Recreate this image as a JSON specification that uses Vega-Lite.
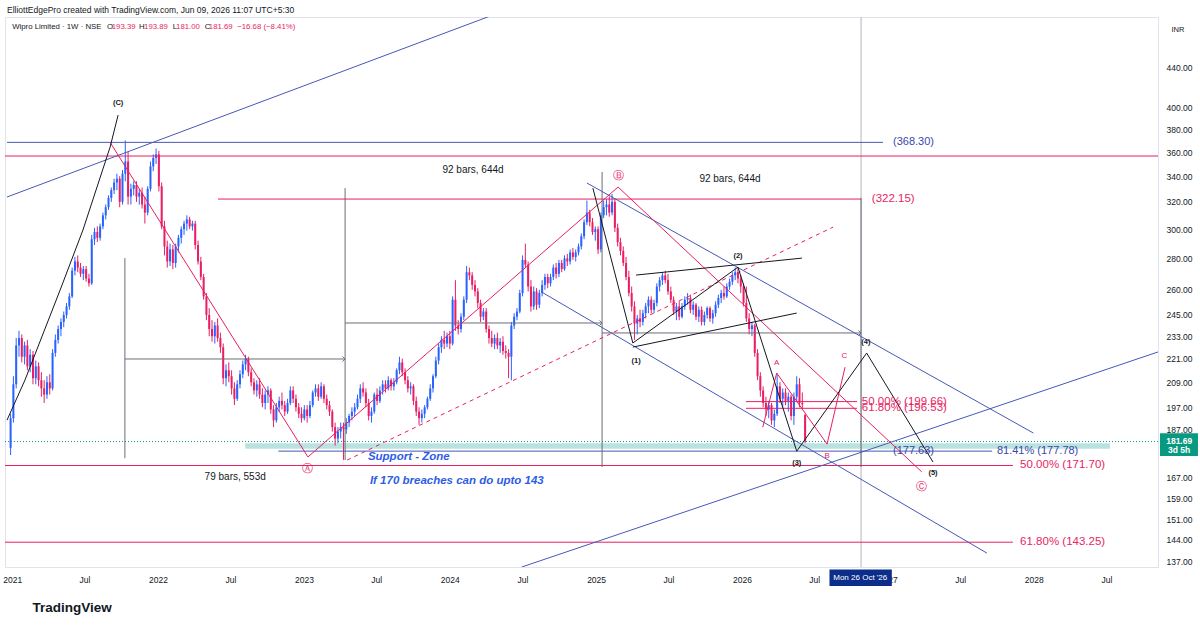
{
  "$schema": "https://vega.github.io/schema/vega-lite/v6.json",
  "autosize": {"type": "none"},
  "padding": {"left": 5, "top": 17, "right": 42, "bottom": 60},
  "width": 1153,
  "height": 550,
  "background": "white",
  "title": {
    "text": "ElliottEdgePro created with TradingView.com, Jun 09, 2026 11:07 UTC+5:30",
    "anchor": "start", "frame": "group", "orient": "top", "offset": 2, "dx": 2,
    "fontSize": 8.5, "fontWeight": "normal", "color": "#131722", "font": "Liberation Sans"
  },
  "datasets": {
    "candles": [
      {"d":"2020-12-28","o":179,"h":194,"l":176,"c":192},
      {"d":"2021-01-04","o":192,"h":212,"l":190,"c":208},
      {"d":"2021-01-11","o":208,"h":232,"l":206,"c":228},
      {"d":"2021-01-18","o":228,"h":236,"l":222,"c":232},
      {"d":"2021-01-25","o":232,"h":234,"l":219,"c":222},
      {"d":"2021-02-01","o":222,"h":230,"l":218,"c":228},
      {"d":"2021-02-08","o":228,"h":231,"l":215,"c":217},
      {"d":"2021-02-15","o":217,"h":226,"l":214,"c":223},
      {"d":"2021-02-22","o":223,"h":225,"l":208,"c":211},
      {"d":"2021-03-01","o":211,"h":220,"l":208,"c":217},
      {"d":"2021-03-08","o":217,"h":219,"l":207,"c":210},
      {"d":"2021-03-15","o":210,"h":214,"l":202,"c":206},
      {"d":"2021-03-22","o":206,"h":210,"l":199,"c":203},
      {"d":"2021-03-29","o":203,"h":212,"l":201,"c":209},
      {"d":"2021-04-05","o":209,"h":213,"l":203,"c":206},
      {"d":"2021-04-12","o":206,"h":226,"l":205,"c":224},
      {"d":"2021-04-19","o":224,"h":234,"l":222,"c":231},
      {"d":"2021-04-26","o":231,"h":239,"l":229,"c":237},
      {"d":"2021-05-03","o":237,"h":243,"l":233,"c":241},
      {"d":"2021-05-10","o":241,"h":247,"l":238,"c":245},
      {"d":"2021-05-17","o":245,"h":252,"l":243,"c":250},
      {"d":"2021-05-24","o":250,"h":258,"l":248,"c":256},
      {"d":"2021-05-31","o":256,"h":274,"l":255,"c":272},
      {"d":"2021-06-07","o":272,"h":281,"l":269,"c":278},
      {"d":"2021-06-14","o":278,"h":282,"l":271,"c":274},
      {"d":"2021-06-21","o":274,"h":277,"l":268,"c":270},
      {"d":"2021-06-28","o":270,"h":275,"l":266,"c":273},
      {"d":"2021-07-05","o":273,"h":275,"l":265,"c":267},
      {"d":"2021-07-12","o":267,"h":270,"l":262,"c":264},
      {"d":"2021-07-19","o":264,"h":296,"l":263,"c":293},
      {"d":"2021-07-26","o":293,"h":301,"l":289,"c":298},
      {"d":"2021-08-02","o":298,"h":302,"l":291,"c":294},
      {"d":"2021-08-09","o":294,"h":304,"l":292,"c":302},
      {"d":"2021-08-16","o":302,"h":312,"l":300,"c":310},
      {"d":"2021-08-23","o":310,"h":318,"l":307,"c":316},
      {"d":"2021-08-30","o":316,"h":325,"l":314,"c":323},
      {"d":"2021-09-06","o":323,"h":331,"l":320,"c":329},
      {"d":"2021-09-13","o":329,"h":338,"l":326,"c":335},
      {"d":"2021-09-20","o":335,"h":342,"l":329,"c":338},
      {"d":"2021-09-27","o":338,"h":340,"l":316,"c":320},
      {"d":"2021-10-04","o":320,"h":345,"l":318,"c":342},
      {"d":"2021-10-11","o":342,"h":370,"l":336,"c":352},
      {"d":"2021-10-18","o":352,"h":360,"l":318,"c":324},
      {"d":"2021-10-25","o":324,"h":334,"l":318,"c":330},
      {"d":"2021-11-01","o":330,"h":336,"l":325,"c":333},
      {"d":"2021-11-08","o":333,"h":336,"l":320,"c":324},
      {"d":"2021-11-15","o":324,"h":330,"l":318,"c":327},
      {"d":"2021-11-22","o":327,"h":331,"l":315,"c":318},
      {"d":"2021-11-29","o":318,"h":324,"l":304,"c":312},
      {"d":"2021-12-06","o":312,"h":332,"l":310,"c":330},
      {"d":"2021-12-13","o":330,"h":352,"l":328,"c":348},
      {"d":"2021-12-20","o":348,"h":358,"l":344,"c":355},
      {"d":"2021-12-27","o":355,"h":363,"l":350,"c":358},
      {"d":"2022-01-03","o":358,"h":361,"l":328,"c":332},
      {"d":"2022-01-10","o":332,"h":335,"l":300,"c":302},
      {"d":"2022-01-17","o":302,"h":306,"l":282,"c":288},
      {"d":"2022-01-24","o":288,"h":292,"l":274,"c":278},
      {"d":"2022-01-31","o":278,"h":290,"l":275,"c":286},
      {"d":"2022-02-07","o":286,"h":289,"l":273,"c":277},
      {"d":"2022-02-14","o":277,"h":290,"l":274,"c":288},
      {"d":"2022-02-21","o":288,"h":296,"l":284,"c":294},
      {"d":"2022-02-28","o":294,"h":302,"l":290,"c":300},
      {"d":"2022-03-07","o":300,"h":306,"l":296,"c":304},
      {"d":"2022-03-14","o":304,"h":310,"l":299,"c":307},
      {"d":"2022-03-21","o":307,"h":309,"l":300,"c":302},
      {"d":"2022-03-28","o":302,"h":306,"l":299,"c":304},
      {"d":"2022-04-04","o":304,"h":306,"l":286,"c":289},
      {"d":"2022-04-11","o":289,"h":292,"l":276,"c":278},
      {"d":"2022-04-18","o":278,"h":281,"l":266,"c":268},
      {"d":"2022-04-25","o":268,"h":270,"l":254,"c":256},
      {"d":"2022-05-02","o":256,"h":258,"l":242,"c":245},
      {"d":"2022-05-09","o":245,"h":249,"l":233,"c":237},
      {"d":"2022-05-16","o":237,"h":242,"l":230,"c":233},
      {"d":"2022-05-23","o":233,"h":241,"l":229,"c":239},
      {"d":"2022-05-30","o":239,"h":243,"l":230,"c":232},
      {"d":"2022-06-06","o":232,"h":235,"l":224,"c":227},
      {"d":"2022-06-13","o":227,"h":229,"l":208,"c":211},
      {"d":"2022-06-20","o":211,"h":218,"l":207,"c":215},
      {"d":"2022-06-27","o":215,"h":219,"l":209,"c":212},
      {"d":"2022-07-04","o":212,"h":215,"l":203,"c":206},
      {"d":"2022-07-11","o":206,"h":209,"l":198,"c":201},
      {"d":"2022-07-18","o":201,"h":210,"l":200,"c":208},
      {"d":"2022-07-25","o":208,"h":215,"l":206,"c":213},
      {"d":"2022-08-01","o":213,"h":220,"l":211,"c":218},
      {"d":"2022-08-08","o":218,"h":223,"l":215,"c":221},
      {"d":"2022-08-15","o":221,"h":222,"l":212,"c":214},
      {"d":"2022-08-22","o":214,"h":216,"l":207,"c":209},
      {"d":"2022-08-29","o":209,"h":211,"l":203,"c":205},
      {"d":"2022-09-05","o":205,"h":210,"l":202,"c":208},
      {"d":"2022-09-12","o":208,"h":211,"l":201,"c":203},
      {"d":"2022-09-19","o":203,"h":206,"l":197,"c":199},
      {"d":"2022-09-26","o":199,"h":205,"l":196,"c":203},
      {"d":"2022-10-03","o":203,"h":207,"l":199,"c":205},
      {"d":"2022-10-10","o":205,"h":206,"l":194,"c":196},
      {"d":"2022-10-17","o":196,"h":198,"l":188,"c":191},
      {"d":"2022-10-24","o":191,"h":199,"l":190,"c":197},
      {"d":"2022-10-31","o":197,"h":202,"l":195,"c":200},
      {"d":"2022-11-07","o":200,"h":204,"l":196,"c":198},
      {"d":"2022-11-14","o":198,"h":200,"l":193,"c":195},
      {"d":"2022-11-21","o":195,"h":201,"l":194,"c":199},
      {"d":"2022-11-28","o":199,"h":207,"l":198,"c":205},
      {"d":"2022-12-05","o":205,"h":207,"l":199,"c":201},
      {"d":"2022-12-12","o":201,"h":203,"l":195,"c":197},
      {"d":"2022-12-19","o":197,"h":199,"l":192,"c":194},
      {"d":"2022-12-26","o":194,"h":197,"l":190,"c":192},
      {"d":"2023-01-02","o":192,"h":198,"l":191,"c":196},
      {"d":"2023-01-09","o":196,"h":198,"l":190,"c":193},
      {"d":"2023-01-16","o":193,"h":200,"l":192,"c":198},
      {"d":"2023-01-23","o":198,"h":205,"l":197,"c":204},
      {"d":"2023-01-30","o":204,"h":208,"l":202,"c":206},
      {"d":"2023-02-06","o":206,"h":208,"l":200,"c":202},
      {"d":"2023-02-13","o":202,"h":209,"l":201,"c":207},
      {"d":"2023-02-20","o":207,"h":208,"l":199,"c":201},
      {"d":"2023-02-27","o":201,"h":203,"l":196,"c":198},
      {"d":"2023-03-06","o":198,"h":200,"l":193,"c":195},
      {"d":"2023-03-13","o":195,"h":196,"l":186,"c":188},
      {"d":"2023-03-20","o":188,"h":190,"l":180,"c":183},
      {"d":"2023-03-27","o":183,"h":188,"l":181,"c":186},
      {"d":"2023-04-03","o":186,"h":190,"l":183,"c":188},
      {"d":"2023-04-10","o":188,"h":190,"l":174,"c":187},
      {"d":"2023-04-17","o":187,"h":192,"l":185,"c":190},
      {"d":"2023-04-24","o":190,"h":194,"l":188,"c":193},
      {"d":"2023-05-01","o":193,"h":197,"l":191,"c":195},
      {"d":"2023-05-08","o":195,"h":199,"l":193,"c":197},
      {"d":"2023-05-15","o":197,"h":203,"l":196,"c":201},
      {"d":"2023-05-22","o":201,"h":208,"l":199,"c":206},
      {"d":"2023-05-29","o":206,"h":209,"l":202,"c":204},
      {"d":"2023-06-05","o":204,"h":206,"l":197,"c":199},
      {"d":"2023-06-12","o":199,"h":201,"l":191,"c":193},
      {"d":"2023-06-19","o":193,"h":197,"l":190,"c":195},
      {"d":"2023-06-26","o":195,"h":204,"l":194,"c":203},
      {"d":"2023-07-03","o":203,"h":206,"l":198,"c":200},
      {"d":"2023-07-10","o":200,"h":207,"l":199,"c":205},
      {"d":"2023-07-17","o":205,"h":210,"l":203,"c":208},
      {"d":"2023-07-24","o":208,"h":210,"l":204,"c":206},
      {"d":"2023-07-31","o":206,"h":212,"l":205,"c":210},
      {"d":"2023-08-07","o":210,"h":211,"l":205,"c":207},
      {"d":"2023-08-14","o":207,"h":211,"l":205,"c":209},
      {"d":"2023-08-21","o":209,"h":216,"l":208,"c":215},
      {"d":"2023-08-28","o":215,"h":222,"l":213,"c":219},
      {"d":"2023-09-04","o":219,"h":221,"l":212,"c":214},
      {"d":"2023-09-11","o":214,"h":216,"l":208,"c":210},
      {"d":"2023-09-18","o":210,"h":212,"l":204,"c":206},
      {"d":"2023-09-25","o":206,"h":209,"l":203,"c":207},
      {"d":"2023-10-02","o":207,"h":208,"l":198,"c":200},
      {"d":"2023-10-09","o":200,"h":202,"l":193,"c":195},
      {"d":"2023-10-16","o":195,"h":197,"l":189,"c":192},
      {"d":"2023-10-23","o":192,"h":196,"l":190,"c":194},
      {"d":"2023-10-30","o":194,"h":198,"l":192,"c":197},
      {"d":"2023-11-06","o":197,"h":202,"l":196,"c":201},
      {"d":"2023-11-13","o":201,"h":208,"l":200,"c":206},
      {"d":"2023-11-20","o":206,"h":213,"l":204,"c":212},
      {"d":"2023-11-27","o":212,"h":222,"l":211,"c":220},
      {"d":"2023-12-04","o":220,"h":229,"l":218,"c":227},
      {"d":"2023-12-11","o":227,"h":233,"l":224,"c":231},
      {"d":"2023-12-18","o":231,"h":236,"l":226,"c":229},
      {"d":"2023-12-25","o":229,"h":235,"l":227,"c":233},
      {"d":"2024-01-01","o":233,"h":236,"l":226,"c":229},
      {"d":"2024-01-08","o":229,"h":256,"l":228,"c":254},
      {"d":"2024-01-15","o":254,"h":266,"l":236,"c":239},
      {"d":"2024-01-22","o":239,"h":242,"l":234,"c":237},
      {"d":"2024-01-29","o":237,"h":246,"l":235,"c":244},
      {"d":"2024-02-05","o":244,"h":256,"l":242,"c":254},
      {"d":"2024-02-12","o":254,"h":275,"l":252,"c":271},
      {"d":"2024-02-19","o":271,"h":274,"l":266,"c":269},
      {"d":"2024-02-26","o":269,"h":271,"l":260,"c":263},
      {"d":"2024-03-04","o":263,"h":266,"l":256,"c":259},
      {"d":"2024-03-11","o":259,"h":261,"l":249,"c":252},
      {"d":"2024-03-18","o":252,"h":254,"l":241,"c":244},
      {"d":"2024-03-25","o":244,"h":249,"l":242,"c":247},
      {"d":"2024-04-01","o":247,"h":249,"l":235,"c":237},
      {"d":"2024-04-08","o":237,"h":239,"l":229,"c":232},
      {"d":"2024-04-15","o":232,"h":236,"l":227,"c":229},
      {"d":"2024-04-22","o":229,"h":234,"l":226,"c":232},
      {"d":"2024-04-29","o":232,"h":235,"l":226,"c":228},
      {"d":"2024-05-06","o":228,"h":232,"l":224,"c":230},
      {"d":"2024-05-13","o":230,"h":233,"l":223,"c":225},
      {"d":"2024-05-20","o":225,"h":228,"l":221,"c":224},
      {"d":"2024-05-27","o":224,"h":226,"l":211,"c":222},
      {"d":"2024-06-03","o":222,"h":241,"l":210,"c":239},
      {"d":"2024-06-10","o":239,"h":246,"l":237,"c":244},
      {"d":"2024-06-17","o":244,"h":249,"l":242,"c":247},
      {"d":"2024-06-24","o":247,"h":260,"l":246,"c":258},
      {"d":"2024-07-01","o":258,"h":282,"l":256,"c":279},
      {"d":"2024-07-08","o":279,"h":290,"l":274,"c":276},
      {"d":"2024-07-15","o":276,"h":278,"l":259,"c":262},
      {"d":"2024-07-22","o":262,"h":266,"l":247,"c":250},
      {"d":"2024-07-29","o":250,"h":262,"l":248,"c":259},
      {"d":"2024-08-05","o":259,"h":261,"l":248,"c":251},
      {"d":"2024-08-12","o":251,"h":260,"l":249,"c":258},
      {"d":"2024-08-19","o":258,"h":266,"l":256,"c":263},
      {"d":"2024-08-26","o":263,"h":270,"l":260,"c":268},
      {"d":"2024-09-02","o":268,"h":270,"l":261,"c":264},
      {"d":"2024-09-09","o":264,"h":270,"l":262,"c":268},
      {"d":"2024-09-16","o":268,"h":276,"l":266,"c":274},
      {"d":"2024-09-23","o":274,"h":277,"l":267,"c":270},
      {"d":"2024-09-30","o":270,"h":279,"l":268,"c":277},
      {"d":"2024-10-07","o":277,"h":279,"l":271,"c":273},
      {"d":"2024-10-14","o":273,"h":282,"l":272,"c":280},
      {"d":"2024-10-21","o":280,"h":283,"l":275,"c":278},
      {"d":"2024-10-28","o":278,"h":286,"l":276,"c":284},
      {"d":"2024-11-04","o":284,"h":287,"l":279,"c":281},
      {"d":"2024-11-11","o":281,"h":286,"l":278,"c":284},
      {"d":"2024-11-18","o":284,"h":290,"l":282,"c":288},
      {"d":"2024-11-25","o":288,"h":297,"l":286,"c":295},
      {"d":"2024-12-02","o":295,"h":307,"l":293,"c":305},
      {"d":"2024-12-09","o":305,"h":321,"l":303,"c":312},
      {"d":"2024-12-16","o":312,"h":314,"l":302,"c":305},
      {"d":"2024-12-23","o":305,"h":308,"l":296,"c":298},
      {"d":"2024-12-30","o":298,"h":302,"l":292,"c":300},
      {"d":"2025-01-06","o":300,"h":302,"l":283,"c":286},
      {"d":"2025-01-13","o":286,"h":312,"l":284,"c":310},
      {"d":"2025-01-20","o":310,"h":321,"l":308,"c":316},
      {"d":"2025-01-27","o":316,"h":322,"l":310,"c":318},
      {"d":"2025-02-03","o":318,"h":324,"l":309,"c":312},
      {"d":"2025-02-10","o":312,"h":326,"l":310,"c":320},
      {"d":"2025-02-17","o":320,"h":322,"l":298,"c":301},
      {"d":"2025-02-24","o":301,"h":304,"l":288,"c":291},
      {"d":"2025-03-03","o":291,"h":294,"l":282,"c":285},
      {"d":"2025-03-10","o":285,"h":288,"l":275,"c":277},
      {"d":"2025-03-17","o":277,"h":281,"l":266,"c":268},
      {"d":"2025-03-24","o":268,"h":272,"l":256,"c":258},
      {"d":"2025-03-31","o":258,"h":262,"l":247,"c":250},
      {"d":"2025-04-07","o":250,"h":253,"l":231,"c":240},
      {"d":"2025-04-14","o":240,"h":245,"l":234,"c":243},
      {"d":"2025-04-21","o":243,"h":248,"l":238,"c":241},
      {"d":"2025-04-28","o":241,"h":248,"l":239,"c":246},
      {"d":"2025-05-05","o":246,"h":252,"l":243,"c":250},
      {"d":"2025-05-12","o":250,"h":256,"l":246,"c":254},
      {"d":"2025-05-19","o":254,"h":256,"l":246,"c":248},
      {"d":"2025-05-26","o":248,"h":254,"l":246,"c":252},
      {"d":"2025-06-02","o":252,"h":264,"l":250,"c":262},
      {"d":"2025-06-09","o":262,"h":268,"l":259,"c":266},
      {"d":"2025-06-16","o":266,"h":271,"l":263,"c":269},
      {"d":"2025-06-23","o":269,"h":272,"l":264,"c":266},
      {"d":"2025-06-30","o":266,"h":270,"l":257,"c":259},
      {"d":"2025-07-07","o":259,"h":262,"l":252,"c":254},
      {"d":"2025-07-14","o":254,"h":256,"l":245,"c":247},
      {"d":"2025-07-21","o":247,"h":252,"l":242,"c":250},
      {"d":"2025-07-28","o":250,"h":253,"l":242,"c":244},
      {"d":"2025-08-04","o":244,"h":252,"l":243,"c":250},
      {"d":"2025-08-11","o":250,"h":256,"l":248,"c":254},
      {"d":"2025-08-18","o":254,"h":258,"l":251,"c":255},
      {"d":"2025-08-25","o":255,"h":257,"l":246,"c":248},
      {"d":"2025-09-01","o":248,"h":253,"l":245,"c":251},
      {"d":"2025-09-08","o":251,"h":252,"l":242,"c":244},
      {"d":"2025-09-15","o":244,"h":250,"l":241,"c":248},
      {"d":"2025-09-22","o":248,"h":250,"l":239,"c":241},
      {"d":"2025-09-29","o":241,"h":247,"l":239,"c":245},
      {"d":"2025-10-06","o":245,"h":250,"l":243,"c":249},
      {"d":"2025-10-13","o":249,"h":250,"l":241,"c":243},
      {"d":"2025-10-20","o":243,"h":248,"l":240,"c":246},
      {"d":"2025-10-27","o":246,"h":253,"l":244,"c":251},
      {"d":"2025-11-03","o":251,"h":257,"l":249,"c":255},
      {"d":"2025-11-10","o":255,"h":260,"l":252,"c":258},
      {"d":"2025-11-17","o":258,"h":262,"l":254,"c":256},
      {"d":"2025-11-24","o":256,"h":264,"l":255,"c":262},
      {"d":"2025-12-01","o":262,"h":267,"l":260,"c":265},
      {"d":"2025-12-08","o":265,"h":271,"l":263,"c":269},
      {"d":"2025-12-15","o":269,"h":274,"l":266,"c":271},
      {"d":"2025-12-22","o":271,"h":274,"l":264,"c":267},
      {"d":"2025-12-29","o":267,"h":269,"l":258,"c":262},
      {"d":"2026-01-05","o":262,"h":264,"l":250,"c":252},
      {"d":"2026-01-12","o":252,"h":262,"l":241,"c":243},
      {"d":"2026-01-19","o":243,"h":246,"l":234,"c":237},
      {"d":"2026-01-26","o":237,"h":241,"l":233,"c":239},
      {"d":"2026-02-02","o":239,"h":240,"l":222,"c":224},
      {"d":"2026-02-09","o":224,"h":226,"l":210,"c":212},
      {"d":"2026-02-16","o":212,"h":214,"l":202,"c":205},
      {"d":"2026-02-23","o":205,"h":207,"l":197,"c":199},
      {"d":"2026-03-02","o":199,"h":202,"l":193,"c":196},
      {"d":"2026-03-09","o":196,"h":200,"l":192,"c":198},
      {"d":"2026-03-16","o":198,"h":199,"l":189,"c":191},
      {"d":"2026-03-23","o":191,"h":196,"l":188,"c":194},
      {"d":"2026-03-30","o":194,"h":213,"l":193,"c":207},
      {"d":"2026-04-06","o":207,"h":209,"l":199,"c":201},
      {"d":"2026-04-13","o":201,"h":206,"l":197,"c":204},
      {"d":"2026-04-20","o":204,"h":206,"l":198,"c":200},
      {"d":"2026-04-27","o":200,"h":204,"l":195,"c":202},
      {"d":"2026-05-04","o":202,"h":203,"l":191,"c":193},
      {"d":"2026-05-11","o":193,"h":204,"l":189,"c":202},
      {"d":"2026-05-18","o":202,"h":212,"l":200,"c":208},
      {"d":"2026-05-25","o":208,"h":211,"l":197,"c":199},
      {"d":"2026-06-01","o":199,"h":204,"l":196,"c":198.37},
      {"d":"2026-06-08","o":193.39,"h":193.89,"l":181,"c":181.69}
    ],
    "zone": [{"d":"2022-08-07","d2":"2028-07-10","p":181.0,"p2":178.6}],
    "last": [{"p":181.69}],
    "cross": [{"d":"2026-10-26"}],
    "measure": [
      {"g":"v1","d":"2021-10-10","p":280.2},{"g":"v1","d":"2021-10-10","p":174.7},
      {"g":"h1","d":"2021-10-10","p":220.8},{"g":"h1","d":"2023-04-14","p":220.8},
      {"g":"v2","d":"2023-04-14","p":330.6},{"g":"v2","d":"2023-04-14","p":173.9},
      {"g":"h2","d":"2023-04-14","p":240.4},{"g":"h2","d":"2025-01-16","p":240.4},
      {"g":"v3","d":"2025-01-16","p":343.4},{"g":"v3","d":"2025-01-16","p":171.1},
      {"g":"h3","d":"2025-01-16","p":234.8},{"g":"h3","d":"2026-10-26","p":234.8},
      {"g":"v4","d":"2026-10-26","p":322.9},{"g":"v4","d":"2026-10-26","p":171.1}
    ],
    "arrows": [
      {"d":"2023-04-14","p":220.8},{"d":"2025-01-16","p":240.4},{"d":"2026-10-26","p":234.8}
    ],
    "black": [
      {"g":"C","d":"2020-12-19","p":191.1},{"g":"C","d":"2021-02-02","p":210.1},
      {"g":"C","d":"2021-05-01","p":259.9},{"g":"C","d":"2021-06-27","p":299.4},
      {"g":"C","d":"2021-09-03","p":364.2},{"g":"C","d":"2021-09-23","p":392.8},
      {"g":"imp","d":"2024-12-24","p":330.6},{"g":"imp","d":"2025-04-03","p":229.3},
      {"g":"imp","d":"2025-12-22","p":274.3},{"g":"imp","d":"2026-05-18","p":177.6},
      {"g":"imp","d":"2026-11-09","p":223.9},{"g":"imp","d":"2027-04-24","p":173.1},
      {"g":"up","d":"2025-04-11","p":269.2},{"g":"up","d":"2026-05-31","p":280.2},
      {"g":"lo","d":"2025-04-03","p":227.1},{"g":"lo","d":"2026-05-18","p":246.1}
    ],
    "blue": [
      {"g":"t1","d":"2020-12-19","p":323.7},{"g":"t1","d":"2024-10-02","p":527.8},
      {"g":"ct","d":"2024-12-09","p":334.6},{"g":"ct","d":"2027-12-31","p":185.4},
      {"g":"cb","d":"2024-08-18","p":258.6},{"g":"cb","d":"2027-09-06","p":139.6},
      {"g":"rs","d":"2024-06-29","p":135.1},{"g":"rs","d":"2028-11-07","p":224.5}
    ],
    "pink": [
      {"g":"big","d":"2021-09-03","p":368.3},{"g":"big","d":"2023-01-11","p":175.2},
      {"g":"big","d":"2025-02-25","p":331.4},{"g":"big","d":"2027-03-27","p":169.1},
      {"g":"small","d":"2026-02-22","p":188.0},{"g":"small","d":"2026-03-29","p":213.6},
      {"g":"small","d":"2026-08-02","p":180.6},{"g":"small","d":"2026-09-16","p":216.6}
    ],
    "dash": [{"d":"2023-04-19","p":173.9},{"d":"2026-08-17","p":301.5}],
    "blueLv": [
      {"d":"2020-12-19","d2":"2026-12-20","p":368.3},
      {"d":"2022-10-29","d2":"2027-09-19","p":177.63}
    ],
    "pinkLv": [
      {"d":"2020-12-14","d2":"2028-11-07","p":356.6},
      {"d":"2022-05-31","d2":"2026-10-26","p":322.15},
      {"d":"2026-01-11","d2":"2026-10-16","p":199.66},
      {"d":"2026-01-11","d2":"2026-10-16","p":196.53},
      {"d":"2020-12-14","d2":"2027-11-10","p":171.7},
      {"d":"2020-12-14","d2":"2027-11-10","p":143.25}
    ],
    "waveTxt": [
      {"d":"2021-09-23","p":404.1,"t":"(C)"},
      {"d":"2025-04-11","p":219.7,"t":"(1)"},
      {"d":"2025-12-22","p":281.6,"t":"(2)"},
      {"d":"2026-05-18","p":172.7,"t":"(3)"},
      {"d":"2026-11-07","p":229.8,"t":"(4)"},
      {"d":"2027-04-24","p":168.7,"t":"(5)"}
    ],
    "circTxt": [
      {"d":"2023-01-11","p":170.3,"t":"Ⓐ"},
      {"d":"2025-02-27","p":340.1,"t":"Ⓑ"},
      {"d":"2027-03-27","p":163.2,"t":"Ⓒ"}
    ],
    "abcTxt": [
      {"d":"2026-03-29","p":218.7,"t":"A"},
      {"d":"2026-08-02","p":175.6,"t":"B"},
      {"d":"2026-09-14","p":222.3,"t":"C"}
    ],
    "measTxt": [
      {"d":"2022-07-13","p":167.1,"t":"79 bars, 553d"},
      {"d":"2024-02-28","p":345.0,"t":"92 bars, 644d"},
      {"d":"2025-12-02","p":337.8,"t":"92 bars, 644d"}
    ],
    "blueTxt": [
      {"d":"2027-01-14","p":368.3,"t":"(368.30)"},
      {"d":"2027-01-14","p":177.63,"t":"(177.63)"},
      {"d":"2027-10-01","p":177.78,"t":"81.41% (177.78)"}
    ],
    "pinkTxt": [
      {"d":"2026-11-22","p":322.15,"t":"(322.15)"},
      {"d":"2026-10-28","p":199.66,"t":"50.00% (199.66)"},
      {"d":"2026-10-28","p":196.53,"t":"61.80% (196.53)"},
      {"d":"2027-11-28","p":171.7,"t":"50.00% (171.70)"},
      {"d":"2027-11-28","p":143.25,"t":"61.80% (143.25)"}
    ],
    "noteTxt": [
      {"d":"2023-06-10","p":175.2,"t":"Support - Zone"},
      {"d":"2023-06-15","p":165.5,"t":"If 170 breaches can do upto 143"}
    ],
    "legBlack": [
      {"d":"2021-01-01","p":483.6,"t":"Wipro Limited · 1W · NSE"},
      {"d":"2021-08-26","p":483.6,"t":"O"},
      {"d":"2021-11-14","p":483.6,"t":"H"},
      {"d":"2022-02-07","p":483.6,"t":"L"},
      {"d":"2022-04-28","p":483.6,"t":"C"}
    ],
    "legPink": [
      {"d":"2021-09-07","p":483.6,"t":"193.39"},
      {"d":"2021-11-27","p":483.6,"t":"193.89"},
      {"d":"2022-02-15","p":483.6,"t":"181.00"},
      {"d":"2022-05-08","p":483.6,"t":"181.69"},
      {"d":"2022-07-18","p":483.6,"t":"−16.68 (−8.41%)"}
    ],
    "inr": [{"d":"2028-12-27","p":480,"t":"INR"}],
    "tag": [{"d":"2028-11-12","d2":"2029-02-15","p":175.6,"p2":185.3}],
    "tagTxt": [
      {"d":"2028-12-30","p":182.0,"t":"181.69"},
      {"d":"2028-12-30","p":178.1,"t":"3d 5h"}
    ],
    "dateBox": [{"d":"2026-08-08","d2":"2027-01-11","p":134.3,"p2":129.2}],
    "dateTxt": [{"d":"2026-10-24","p":131.7,"t":"Mon 26 Oct '26"}]
  },
  "layer": [
    {
      "data": {"name": "zone"},
      "mark": {"type": "rect", "color": "#b2dfdb", "opacity": 0.9},
      "encoding": {
        "x": {"field": "d", "type": "temporal"},
        "x2": {"field": "d2"},
        "y": {"field": "p", "type": "quantitative"},
        "y2": {"field": "p2"}
      }
    },
    {
      "data": {"name": "cross"},
      "mark": {"type": "rule", "color": "#b2b5be", "strokeWidth": 1},
      "encoding": {"x": {"field": "d", "type": "temporal"}}
    },
    {
      "data": {"name": "candles"},
      "mark": {"type": "rule", "strokeWidth": 1},
      "encoding": {
        "x": {
          "field": "d", "type": "temporal",
          "scale": {"type": "utc", "nice": false, "padding": 0, "domain": [{"year": 2020, "month": 12, "date": 14, "utc": true}, {"year": 2028, "month": 11, "date": 7, "utc": true}]},
          "axis": {
            "orient": "bottom",
            "values": [
              {"year": 2021, "month": 1, "date": 1, "utc": true}, {"year": 2021, "month": 7, "date": 1, "utc": true},
              {"year": 2022, "month": 1, "date": 1, "utc": true}, {"year": 2022, "month": 7, "date": 1, "utc": true},
              {"year": 2023, "month": 1, "date": 1, "utc": true}, {"year": 2023, "month": 7, "date": 1, "utc": true},
              {"year": 2024, "month": 1, "date": 1, "utc": true}, {"year": 2024, "month": 7, "date": 1, "utc": true},
              {"year": 2025, "month": 1, "date": 1, "utc": true}, {"year": 2025, "month": 7, "date": 1, "utc": true},
              {"year": 2026, "month": 1, "date": 1, "utc": true}, {"year": 2026, "month": 7, "date": 1, "utc": true},
              {"year": 2027, "month": 1, "date": 1, "utc": true}, {"year": 2027, "month": 7, "date": 1, "utc": true},
              {"year": 2028, "month": 1, "date": 1, "utc": true}, {"year": 2028, "month": 7, "date": 1, "utc": true}
            ],
            "labelExpr": "utcFormat(datum.value, '%m') == '01' ? utcFormat(datum.value, '%Y') : 'Jul'",
            "ticks": false, "grid": false, "domainColor": "#e0e3eb",
            "labelColor": "#131722", "labelFontSize": 8.5, "labelPadding": 8,
            "labelFlush": false, "labelOverlap": false,
            "title": "TradingView", "titleAnchor": "start", "titleAlign": "left",
            "titleFontSize": 13.5, "titleFontWeight": "bold", "titleColor": "#131722",
            "titleX": 27, "titleY": 33
          }
        },
        "y": {
          "field": "l", "type": "quantitative",
          "scale": {"type": "log", "domain": [135.1, 495.2], "nice": false, "zero": false, "padding": 0},
          "axis": {
            "orient": "right",
            "values": [137, 144, 151, 159, 167, 187, 197, 209, 221, 233, 245, 260, 280, 300, 320, 340, 360, 380, 400, 440],
            "format": ".2f", "ticks": false, "grid": false, "domainColor": "#e0e3eb",
            "labelColor": "#131722", "labelFontSize": 8.5, "labelPadding": 8,
            "labelOverlap": false, "title": null
          }
        },
        "y2": {"field": "h"},
        "color": {"condition": {"test": "datum.c >= datum.o", "value": "#2962ff"}, "value": "#e91e63"}
      }
    },
    {
      "data": {"name": "candles"},
      "mark": {"type": "bar", "size": 2},
      "encoding": {
        "x": {"field": "d", "type": "temporal"},
        "y": {"field": "o", "type": "quantitative"},
        "y2": {"field": "c"},
        "color": {"condition": {"test": "datum.c >= datum.o", "value": "#2962ff"}, "value": "#e91e63"}
      }
    },
    {
      "data": {"name": "last"},
      "mark": {"type": "rule", "color": "#089981", "strokeDash": [1, 2], "strokeWidth": 1},
      "encoding": {"y": {"field": "p", "type": "quantitative"}}
    },
    {
      "data": {"name": "measure"},
      "mark": {"type": "line", "color": "#6a6d78", "strokeWidth": 1, "clip": true},
      "encoding": {
        "x": {"field": "d", "type": "temporal"},
        "y": {"field": "p", "type": "quantitative"},
        "detail": {"field": "g"}
      }
    },
    {
      "data": {"name": "arrows"},
      "mark": {"type": "point", "shape": "M-1,-1L0,0L-1,1", "filled": false, "color": "#6a6d78", "size": 25, "strokeWidth": 1, "opacity": 1},
      "encoding": {
        "x": {"field": "d", "type": "temporal"},
        "y": {"field": "p", "type": "quantitative"}
      }
    },
    {
      "data": {"name": "blueLv"},
      "mark": {"type": "rule", "color": "#4658b8", "strokeWidth": 1},
      "encoding": {
        "x": {"field": "d", "type": "temporal"},
        "x2": {"field": "d2"},
        "y": {"field": "p", "type": "quantitative"}
      }
    },
    {
      "data": {"name": "pinkLv"},
      "mark": {"type": "rule", "color": "#e91e63", "strokeWidth": 1},
      "encoding": {
        "x": {"field": "d", "type": "temporal"},
        "x2": {"field": "d2"},
        "y": {"field": "p", "type": "quantitative"}
      }
    },
    {
      "data": {"name": "blue"},
      "mark": {"type": "line", "color": "#4658b8", "strokeWidth": 1, "clip": true},
      "encoding": {
        "x": {"field": "d", "type": "temporal"},
        "y": {"field": "p", "type": "quantitative"},
        "detail": {"field": "g"}
      }
    },
    {
      "data": {"name": "pink"},
      "mark": {"type": "line", "color": "#e91e63", "strokeWidth": 1, "clip": true},
      "encoding": {
        "x": {"field": "d", "type": "temporal"},
        "y": {"field": "p", "type": "quantitative"},
        "detail": {"field": "g"}
      }
    },
    {
      "data": {"name": "dash"},
      "mark": {"type": "line", "color": "#e91e63", "strokeWidth": 1, "strokeDash": [4, 4], "clip": true},
      "encoding": {
        "x": {"field": "d", "type": "temporal"},
        "y": {"field": "p", "type": "quantitative"}
      }
    },
    {
      "data": {"name": "black"},
      "mark": {"type": "line", "color": "#131722", "strokeWidth": 1, "clip": true},
      "encoding": {
        "x": {"field": "d", "type": "temporal"},
        "y": {"field": "p", "type": "quantitative"},
        "detail": {"field": "g"}
      }
    },
    {
      "data": {"name": "waveTxt"},
      "mark": {"type": "text", "color": "#131722", "fontSize": 7.5, "fontWeight": "bold", "align": "center", "baseline": "middle"},
      "encoding": {
        "x": {"field": "d", "type": "temporal"},
        "y": {"field": "p", "type": "quantitative"},
        "text": {"field": "t"}
      }
    },
    {
      "data": {"name": "circTxt"},
      "mark": {"type": "text", "color": "#e91e63", "fontSize": 11, "font": "DejaVu Sans", "align": "center", "baseline": "middle"},
      "encoding": {
        "x": {"field": "d", "type": "temporal"},
        "y": {"field": "p", "type": "quantitative"},
        "text": {"field": "t"}
      }
    },
    {
      "data": {"name": "abcTxt"},
      "mark": {"type": "text", "color": "#e91e63", "fontSize": 8, "align": "center", "baseline": "middle"},
      "encoding": {
        "x": {"field": "d", "type": "temporal"},
        "y": {"field": "p", "type": "quantitative"},
        "text": {"field": "t"}
      }
    },
    {
      "data": {"name": "measTxt"},
      "mark": {"type": "text", "color": "#131722", "fontSize": 10, "align": "center", "baseline": "middle"},
      "encoding": {
        "x": {"field": "d", "type": "temporal"},
        "y": {"field": "p", "type": "quantitative"},
        "text": {"field": "t"}
      }
    },
    {
      "data": {"name": "blueTxt"},
      "mark": {"type": "text", "color": "#3949ab", "fontSize": 11, "align": "left", "baseline": "middle"},
      "encoding": {
        "x": {"field": "d", "type": "temporal"},
        "y": {"field": "p", "type": "quantitative"},
        "text": {"field": "t"}
      }
    },
    {
      "data": {"name": "pinkTxt"},
      "mark": {"type": "text", "color": "#e91e63", "fontSize": 11.5, "align": "left", "baseline": "middle"},
      "encoding": {
        "x": {"field": "d", "type": "temporal"},
        "y": {"field": "p", "type": "quantitative"},
        "text": {"field": "t"}
      }
    },
    {
      "data": {"name": "noteTxt"},
      "mark": {"type": "text", "color": "#2e5ce6", "fontSize": 11.5, "fontWeight": "bold", "fontStyle": "italic", "align": "left", "baseline": "middle"},
      "encoding": {
        "x": {"field": "d", "type": "temporal"},
        "y": {"field": "p", "type": "quantitative"},
        "text": {"field": "t"}
      }
    },
    {
      "data": {"name": "legBlack"},
      "mark": {"type": "text", "color": "#131722", "fontSize": 7.8, "align": "left", "baseline": "middle"},
      "encoding": {
        "x": {"field": "d", "type": "temporal"},
        "y": {"field": "p", "type": "quantitative"},
        "text": {"field": "t"}
      }
    },
    {
      "data": {"name": "legPink"},
      "mark": {"type": "text", "color": "#e91e63", "fontSize": 7.8, "align": "left", "baseline": "middle"},
      "encoding": {
        "x": {"field": "d", "type": "temporal"},
        "y": {"field": "p", "type": "quantitative"},
        "text": {"field": "t"}
      }
    },
    {
      "data": {"name": "inr"},
      "mark": {"type": "text", "color": "#131722", "fontSize": 7.5, "align": "center", "baseline": "middle"},
      "encoding": {
        "x": {"field": "d", "type": "temporal"},
        "y": {"field": "p", "type": "quantitative"},
        "text": {"field": "t"}
      }
    },
    {
      "data": {"name": "tag"},
      "mark": {"type": "rect", "color": "#089981"},
      "encoding": {
        "x": {"field": "d", "type": "temporal"},
        "x2": {"field": "d2"},
        "y": {"field": "p", "type": "quantitative"},
        "y2": {"field": "p2"}
      }
    },
    {
      "data": {"name": "tagTxt"},
      "mark": {"type": "text", "color": "white", "fontSize": 8.5, "fontWeight": "bold", "align": "center", "baseline": "middle"},
      "encoding": {
        "x": {"field": "d", "type": "temporal"},
        "y": {"field": "p", "type": "quantitative"},
        "text": {"field": "t"}
      }
    },
    {
      "data": {"name": "dateBox"},
      "mark": {"type": "rect", "color": "#0d2d8a"},
      "encoding": {
        "x": {"field": "d", "type": "temporal"},
        "x2": {"field": "d2"},
        "y": {"field": "p", "type": "quantitative"},
        "y2": {"field": "p2"}
      }
    },
    {
      "data": {"name": "dateTxt"},
      "mark": {"type": "text", "color": "white", "fontSize": 8, "align": "center", "baseline": "middle"},
      "encoding": {
        "x": {"field": "d", "type": "temporal"},
        "y": {"field": "p", "type": "quantitative"},
        "text": {"field": "t"}
      }
    }
  ],
  "config": {
    "font": "Liberation Sans",
    "view": {"stroke": "#e0e3eb"}
  }
}
